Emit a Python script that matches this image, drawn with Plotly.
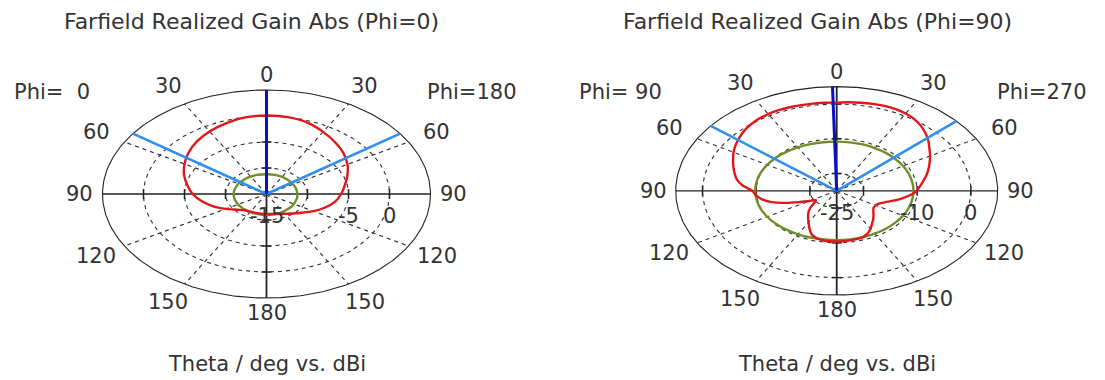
import numpy as np
import plotly.graph_objects as go

# ---------------------------------------------------------------------------
# Farfield cuts (realized gain, dBi) versus theta (deg)
# ---------------------------------------------------------------------------

# Cut 1: Phi = 0 / Phi = 180, theta sampled every 10 deg
theta_a = [0, 10, 20, 30, 40, 50, 60, 70, 80, 90,
           100, 110, 120, 130, 140, 150, 160, 170, 180]
red_a_phi0 = [0.1, -0.05, -0.55, -1.1, -1.8, -2.6, -3.45, -4.3, -5.2, -6.0,
              -7.0, -8.1, -9.3, -10.3, -10.9, -11.1, -11.15, -11.15, -11.15]
red_a_phi180 = [0.1, 0.0, -0.4, -1.2, -2.0, -2.75, -3.6, -4.5, -5.3, -5.9,
                -6.5, -7.4, -8.4, -9.4, -10.1, -10.6, -10.9, -11.1, -11.15]
green_a_phi0 = [-11.2, -11.2, -11.15, -11.15, -11.1, -11.1, -11.05, -11.05, -11.0, -11.0,
                -11.0, -11.0, -11.0, -11.0, -11.0, -11.0, -11.0, -11.0, -11.0]
green_a_phi180 = [-11.2, -11.2, -11.2, -11.2, -11.25, -11.25, -11.25, -11.25, -11.25, -11.25,
                  -11.2, -11.2, -11.15, -11.1, -11.1, -11.05, -11.0, -11.0, -11.0]
main_lobe_a = 0.0           # signed theta, negative = Phi=0 side
beam_edges_a = [-54.5, 54.5]

# Cut 2: Phi = 90 / Phi = 270
theta_b = [0, 5, 10, 15, 20, 25, 30, 35, 40, 45, 50, 55, 60, 65, 70, 75, 80, 85, 90,
           95, 100, 105, 110, 115, 120, 125, 130, 135, 140, 145, 150, 155, 160, 165,
           170, 175, 180]
red_b_phi90 = [0.4, 0.45, 0.5, 0.55, 0.6, 0.6, 0.5, 0.3, -0.1, -0.6, -1.3, -2.0, -2.8,
               -3.7, -4.5, -5.3, -6.1, -7.4, -9.3, -9.9, -10.9, -12.4, -14.8, -17.3,
               -19.2, -20.3, -19.5, -18.0, -16.8, -15.7, -14.5, -13.0, -11.5, -10.8,
               -10.5, -10.4, -10.4]
red_b_phi270 = [0.4, 0.6, 0.75, 0.9, 1.0, 0.95, 0.7, 0.2, -0.6, -1.6, -2.7, -3.9, -4.9,
                -5.9, -6.8, -7.7, -8.6, -9.4, -10.1, -11.2, -12.6, -14.0, -15.4, -16.3,
                -16.6, -16.6, -16.1, -15.3, -14.4, -13.5, -12.4, -11.4, -10.8, -10.6,
                -10.5, -10.4, -10.4]
theta_b_green = [0, 10, 20, 30, 40, 50, 60, 70, 80, 90,
                 100, 110, 120, 130, 140, 150, 160, 170, 180]
green_b_phi90 = [-10.85, -10.8, -10.7, -10.55, -10.4, -10.2, -10.05, -9.9, -9.85, -9.8,
                 -9.85, -9.9, -10.05, -10.2, -10.4, -10.55, -10.7, -10.8, -10.8]
green_b_phi270 = [-10.85, -10.85, -10.8, -10.8, -10.75, -10.75, -10.7, -10.7, -10.7, -10.7,
                  -10.7, -10.7, -10.7, -10.75, -10.75, -10.8, -10.8, -10.8, -10.8]
main_lobe_b = -1.5
beam_edges_b = [-51.5, 48.0]

# Radial scales (dBi): centre value, outer value, dashed rings, labelled values
scale_a = dict(rmin=-15, rmax=5, rings=[-10, -5, 0], labels=[-15, -5, 0])
scale_b = dict(rmin=-25, rmax=5, rings=[-20, -10, 0], labels=[-25, -10, 0])

angle_ticks = [0, 30, 60, 90, 120, 150, 180]

titles = ["Farfield Realized Gain Abs (Phi=0)", "Farfield Realized Gain Abs (Phi=90)"]
side_names = [("Phi=\u00a0\u00a00", "Phi=180"), ("Phi=\u00a090", "Phi=270")]
x_title = "Theta / deg vs. dBi"

# ---------------------------------------------------------------------------
W, H = 1105, 380
FONT = "DejaVu Sans"
TXT = "#333333"
RED = "#e3151b"
GREEN = "#6f8f2a"
DBLUE = "#0a10c8"
LBLUE = "#2f8ff0"

# frame geometry (pixels): centre and semi-axes of each polar frame
frames = [
    dict(cx=266.5, cy=194.0, rx=164.0, ry=104.0, x0=0.0, x1=552.5,
         title_x=251.0, side_x=(12.0, 425.0)),
    dict(cx=836.7, cy=190.8, rx=161.0, ry=104.2, x0=552.5, x1=1105.0,
         title_x=817.0, side_x=(577.0, 995.0)),
]


def norm(g, sc):
    return max((g - sc["rmin"]) / (sc["rmax"] - sc["rmin"]), 0.0)


def half_curve(thetas, gains, sign, sc):
    xs, ys = [], []
    for t, g in zip(thetas, gains):
        r = norm(g, sc)
        a = np.radians(t)
        xs.append(sign * r * np.sin(a))
        ys.append(r * np.cos(a))
    return xs, ys


def full_curve(thetas, left, right, sc):
    lx, ly = half_curve(thetas[::-1], left[::-1], -1, sc)
    rx, ry = half_curve(thetas[1:], right[1:], 1, sc)
    return lx + rx, ly + ry


def label(x, y, text, xref, yref, size=20, xanchor="center"):
    return dict(x=x, y=y, xref=xref, yref=yref, text=text, showarrow=False,
                xanchor=xanchor, yanchor="middle",
                font=dict(family=FONT, size=size, color=TXT))


fig = go.Figure()

cuts = [
    dict(scale=scale_a, red=(theta_a, red_a_phi0, red_a_phi180),
         green=(theta_a, green_a_phi0, green_a_phi180),
         lobe=main_lobe_a, edges=beam_edges_a),
    dict(scale=scale_b, red=(theta_b, red_b_phi90, red_b_phi270),
         green=(theta_b_green, green_b_phi90, green_b_phi270),
         lobe=main_lobe_b, edges=beam_edges_b),
]

annotations = []
phi = np.linspace(0, 2 * np.pi, 361)
GRID = dict(color="#2e2e2e", width=1.1, dash="4px,4px")

for i, (fr, cut) in enumerate(zip(frames, cuts)):
    xa = "x" if i == 0 else "x2"
    ya = "y" if i == 0 else "y2"
    sc = cut["scale"]
    kw = dict(xaxis=xa, yaxis=ya, hoverinfo="skip", showlegend=False)

    # dashed rings
    for rv in sc["rings"]:
        r = norm(rv, sc)
        fig.add_trace(go.Scatter(x=r * np.sin(phi), y=r * np.cos(phi), mode="lines",
                                 line=GRID, **kw))
    # dashed spokes
    for t in [30, 60, 120, 150]:
        for s in (-1, 1):
            a = np.radians(t)
            fig.add_trace(go.Scatter(x=[0, s * np.sin(a)], y=[0, np.cos(a)], mode="lines",
                                     line=GRID, **kw))
    # outer frame and axes
    fig.add_trace(go.Scatter(x=np.sin(phi), y=np.cos(phi), mode="lines",
                             line=dict(color="#222222", width=1.1), **kw))
    fig.add_trace(go.Scatter(x=[-1, 1], y=[0, 0], mode="lines",
                             line=dict(color="#222222", width=1.3), **kw))
    fig.add_trace(go.Scatter(x=[0, 0], y=[-1, 1], mode="lines",
                             line=dict(color="#222222", width=1.8), **kw))
    # tick marks where rings cross the axes
    tx, ty = [], []
    hx = 5.0 / fr["rx"]
    hy = 5.0 / fr["ry"]
    for rv in sc["rings"]:
        r = norm(rv, sc)
        for s in (-1, 1):
            tx += [s * r, s * r, None]
            ty += [-hy, hy, None]
            tx += [-hx, hx, None]
            ty += [s * r, s * r, None]
    fig.add_trace(go.Scatter(x=tx, y=ty, mode="lines",
                             line=dict(color="#222222", width=1.5), **kw))

    # green and red cuts
    gx, gy = full_curve(*cut["green"], sc)
    fig.add_trace(go.Scatter(x=gx, y=gy, mode="lines",
                             line=dict(color=GREEN, width=2.4, shape="spline", smoothing=0.6), **kw))
    rx_, ry_ = full_curve(*cut["red"], sc)
    fig.add_trace(go.Scatter(x=rx_, y=ry_, mode="lines",
                             line=dict(color=RED, width=2.4, shape="spline", smoothing=0.6), **kw))

    # half-power beam edges and main lobe direction
    for e in cut["edges"]:
        a = np.radians(e)
        fig.add_trace(go.Scatter(x=[0, np.sin(a)], y=[0, np.cos(a)], mode="lines",
                                 line=dict(color=LBLUE, width=2.6), **kw))
    a = np.radians(cut["lobe"])
    fig.add_trace(go.Scatter(x=[0, np.sin(a)], y=[0, np.cos(a)], mode="lines",
                             line=dict(color=DBLUE, width=3), **kw))

    # angle labels
    for t in angle_ticks:
        sides = (1,) if t in (0, 180) else (-1, 1)
        for s in sides:
            a = np.radians(t)
            rl = 1.14 if t in (0, 90, 180) else 1.2
            annotations.append(label(s * rl * np.sin(a), rl * np.cos(a), str(t), xa, ya, size=21))
    # radial value labels
    for v in sc["labels"]:
        annotations.append(label(norm(v, sc), -22.0 / fr["ry"], str(v), xa, ya, size=21))

    # titles and side names
    annotations.append(label(fr["title_x"] / W, 1 - 22 / H, titles[i], "paper", "paper", size=22))
    annotations.append(label(fr["cx"] / W, 1 - 364 / H, x_title, "paper", "paper", size=21))
    left_name, right_name = side_names[i]
    annotations.append(label(fr["side_x"][0] / W, 1 - 92 / H, left_name, "paper", "paper",
                             size=21, xanchor="left"))
    annotations.append(label(fr["side_x"][1] / W, 1 - 92 / H, right_name, "paper", "paper",
                             size=21, xanchor="left"))

# axes: linear scales chosen so each frame sits at its centre with its semi-axes
layout_axes = {}
for i, fr in enumerate(frames):
    sx = "xaxis" if i == 0 else "xaxis2"
    sy = "yaxis" if i == 0 else "yaxis2"
    layout_axes[sx] = dict(domain=[fr["x0"] / W, fr["x1"] / W],
                           range=[-(fr["cx"] - fr["x0"]) / fr["rx"], (fr["x1"] - fr["cx"]) / fr["rx"]],
                           visible=False, fixedrange=True)
    layout_axes[sy] = dict(domain=[0, 1],
                           range=[-(H - fr["cy"]) / fr["ry"], fr["cy"] / fr["ry"]],
                           visible=False, fixedrange=True)
    if i == 1:
        layout_axes[sx]["anchor"] = "y2"
        layout_axes[sy]["anchor"] = "x2"

fig.update_layout(width=W, height=H, margin=dict(l=0, r=0, t=0, b=0),
                  paper_bgcolor="white", plot_bgcolor="white",
                  annotations=annotations, **layout_axes)

fig.write_html("out.html", config={"displayModeBar": False})
